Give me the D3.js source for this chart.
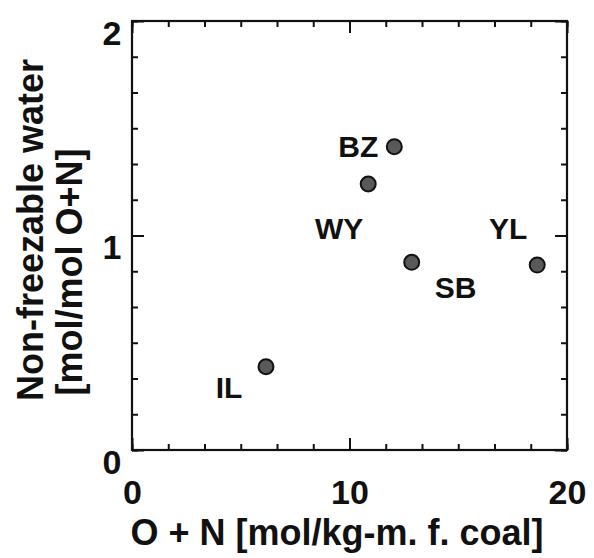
<!DOCTYPE html>
<html>
<head>
<meta charset="utf-8">
<script src="https://cdn.jsdelivr.net/npm/d3@7"></script>
<style>
  body { margin: 0; background: #fff; }
  text { font-family: "Liberation Sans", Arial, Helvetica, sans-serif; font-weight: bold; fill: #111; }
</style>
</head>
<body>
<div id="chart"></div>
<script>
// coal samples
const coals = ["BZ", "WY", "SB", "YL", "IL"];
const oPlusN = [12.06, 10.86, 12.86, 18.63, 6.16];
const nonFreezable = [1.414, 1.240, 0.875, 0.862, 0.388];

const xTicks = [0, 10, 20];
const yTicks = [0, 1, 2];

// where each label sits relative to its point (px)
const labelOffsets = {
  BZ: [-16, 10, "end"],
  WY: [-29, 55, "middle"],
  SB: [44, 36, "middle"],
  YL: [-29, -26, "middle"],
  IL: [-37, 31, "middle"]
};

const W = 594, H = 558;
const plotL = 132, plotR = 567, plotT = 21, plotB = 450;

const svg = d3.select("#chart").append("svg")
  .attr("width", W)
  .attr("height", H);

const x = d3.scaleLinear().domain([0, 20]).range([plotL, plotR]);
const y = d3.scaleLinear().domain([0, 2]).range([plotB, plotT]);

const minorX = d3.range(0, 20.001, 10 / 6);
const minorY = d3.range(0, 2.0001, 1 / 6);

function styleTicks(g) {
  g.select(".domain").remove();
  g.selectAll("line").attr("stroke", "#111").attr("stroke-width", 2);
}

// minor ticks, all four sides, inward
svg.append("g").attr("transform", `translate(0,${plotB})`)
  .call(d3.axisBottom(x).tickValues(minorX).tickSize(-6).tickFormat(""))
  .call(styleTicks);
svg.append("g").attr("transform", `translate(0,${plotT})`)
  .call(d3.axisTop(x).tickValues(minorX).tickSize(-6).tickFormat(""))
  .call(styleTicks);
svg.append("g").attr("transform", `translate(${plotL},0)`)
  .call(d3.axisLeft(y).tickValues(minorY).tickSize(-6).tickFormat(""))
  .call(styleTicks);
svg.append("g").attr("transform", `translate(${plotR},0)`)
  .call(d3.axisRight(y).tickValues(minorY).tickSize(-6).tickFormat(""))
  .call(styleTicks);

// major ticks
const xAxis = svg.append("g").attr("transform", `translate(0,${plotB})`)
  .call(d3.axisBottom(x).tickValues(xTicks).tickSize(-12).tickFormat(d3.format("d")))
  .call(styleTicks);
xAxis.selectAll("text")
  .attr("y", 54)
  .attr("dy", null)
  .style("font-size", "34px");

svg.append("g").attr("transform", `translate(0,${plotT})`)
  .call(d3.axisTop(x).tickValues(xTicks).tickSize(-12).tickFormat(""))
  .call(styleTicks);

const yAxis = svg.append("g").attr("transform", `translate(${plotL},0)`)
  .call(d3.axisLeft(y).tickValues(yTicks).tickSize(-12).tickFormat(d3.format("d")))
  .call(styleTicks);
yAxis.selectAll("text")
  .attr("x", -20)
  .attr("y", 23)
  .attr("dy", null)
  .attr("text-anchor", "middle")
  .style("font-size", "34px");

svg.append("g").attr("transform", `translate(${plotR},0)`)
  .call(d3.axisRight(y).tickValues(yTicks).tickSize(-12).tickFormat(""))
  .call(styleTicks);

// frame
svg.append("rect")
  .attr("x", plotL).attr("y", plotT)
  .attr("width", plotR - plotL).attr("height", plotB - plotT)
  .attr("fill", "none")
  .attr("stroke", "#111")
  .attr("stroke-width", 2.2);

// points
const pts = coals.map((c, i) => ({ name: c, x: oPlusN[i], y: nonFreezable[i] }));

svg.append("g").selectAll("circle")
  .data(pts)
  .join("circle")
  .attr("cx", d => x(d.x))
  .attr("cy", d => y(d.y))
  .attr("r", 7.5)
  .attr("fill", "#595959")
  .attr("stroke", "#111")
  .attr("stroke-width", 2);

svg.append("g").selectAll("text")
  .data(pts)
  .join("text")
  .attr("x", d => x(d.x) + labelOffsets[d.name][0])
  .attr("y", d => y(d.y) + labelOffsets[d.name][1])
  .attr("text-anchor", d => labelOffsets[d.name][2])
  .style("font-size", "30px")
  .text(d => d.name);

// axis titles
svg.append("text")
  .attr("x", 337)
  .attr("y", 545)
  .attr("text-anchor", "middle")
  .style("font-size", "36px")
  .text("O + N [mol/kg-m. f. coal]");

svg.append("text")
  .attr("transform", "translate(43,230) rotate(-90)")
  .attr("text-anchor", "middle")
  .style("font-size", "36px")
  .text("Non-freezable water");

svg.append("text")
  .attr("transform", "translate(82,272) rotate(-90)")
  .attr("text-anchor", "middle")
  .style("font-size", "36px")
  .text("[mol/mol O+N]");
</script>
</body>
</html>
